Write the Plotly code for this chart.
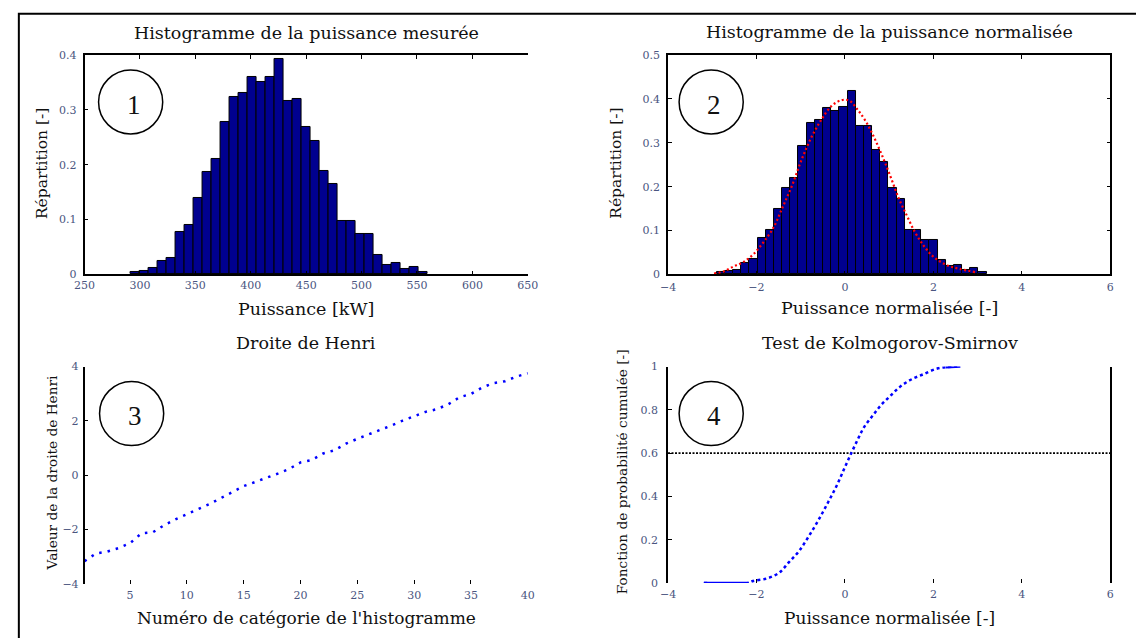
import plotly.graph_objects as go

W, H = 1136, 638

# ---- 1: histogram of the measured power -------------------------------
p_bin_start = 291.3      # kW, left edge of the first class
p_bin_width = 8.13       # kW
p_freq = [0.005, 0.006, 0.011, 0.024, 0.030, 0.077, 0.091, 0.139, 0.186, 0.210,
          0.277, 0.324, 0.330, 0.359, 0.350, 0.359, 0.392, 0.316, 0.320, 0.268,
          0.243, 0.188, 0.164, 0.097, 0.097, 0.073, 0.073, 0.035, 0.017, 0.021,
          0.010, 0.014, 0.005]
p_ticks = [250, 300, 350, 400, 450, 500, 550, 600, 650]
f1_ticks = [0, 0.1, 0.2, 0.3, 0.4]

# ---- 2: histogram of the normalised power + normal density -----------
n_bin_start = -2.90
n_bin_width = 0.185
n_freq = [0.005, 0.007, 0.010, 0.025, 0.036, 0.084, 0.101, 0.149, 0.197, 0.219,
          0.292, 0.344, 0.351, 0.379, 0.373, 0.381, 0.417, 0.339, 0.339, 0.284,
          0.256, 0.197, 0.171, 0.102, 0.102, 0.079, 0.079, 0.034, 0.019, 0.021,
          0.011, 0.015, 0.005]
gauss_x = [-2.96, -2.74, -2.52, -2.30, -2.08, -1.86, -1.63, -1.41, -1.19, -0.97,
           -0.75, -0.53, -0.30, -0.08, 0.10, 0.29, 0.47, 0.66, 0.84, 1.03,
           1.21, 1.40, 1.58, 1.77, 1.95, 2.14, 2.36, 2.58, 2.95]
gauss_y = [0.002, 0.007, 0.018, 0.028, 0.045, 0.071, 0.104, 0.153, 0.204, 0.264,
           0.314, 0.353, 0.384, 0.397, 0.396, 0.375, 0.349, 0.312, 0.271, 0.223,
           0.175, 0.134, 0.097, 0.067, 0.045, 0.030, 0.019, 0.013, 0.005]
norm_ticks = [-4, -2, 0, 2, 4, 6]
f2_ticks = [0, 0.1, 0.2, 0.3, 0.4, 0.5]

# ---- 3: Henri line -----------------------------------------------------
categories = list(range(1, 41))
henri = [-3.16, -2.88, -2.81, -2.68, -2.50, -2.14, -2.10, -1.84, -1.62, -1.44,
         -1.24, -1.06, -0.84, -0.61, -0.40, -0.25, -0.10, 0.06, 0.23, 0.47,
         0.56, 0.80, 0.92, 1.16, 1.34, 1.50, 1.65, 1.83, 2.01, 2.16,
         2.33, 2.43, 2.61, 2.87, 2.99, 3.23, 3.39, 3.46, 3.63, 3.75]
cat_ticks = [5, 10, 15, 20, 25, 30, 35, 40]
henri_ticks = [-4, -2, 0, 2, 4]

# ---- 4: Kolmogorov-Smirnov test ---------------------------------------
ks_x = [-3.19, -2.19, -2.08, -1.78, -1.49, -1.27, -1.04, -0.82, -0.60, -0.38,
        -0.19, -0.01, 0.14, 0.29, 0.43, 0.62, 0.81, 1.03, 1.25, 1.50,
        1.77, 2.06, 2.28, 2.61]
ks_y = [0.0, 0.0, 0.009, 0.020, 0.047, 0.095, 0.147, 0.215, 0.290, 0.373,
        0.448, 0.531, 0.598, 0.663, 0.719, 0.771, 0.820, 0.865, 0.907, 0.940,
        0.964, 0.989, 0.997, 1.0]
ks_level = 0.6
cdf_ticks = [0, 0.2, 0.4, 0.6, 0.8, 1]

NAVY = "#00008f"
TXT = "#111111"
TICK_FONT = dict(family="DejaVu Serif", size=11, color="#4a5580")
LBL = "DejaVu Serif"


def px(x):
    return x / W


def py(y):
    return 1 - y / H


fig = go.Figure()

# panel 1 bars
fig.add_trace(go.Bar(
    x=[p_bin_start + (i + 0.5) * p_bin_width for i in range(len(p_freq))],
    y=p_freq, width=p_bin_width,
    marker=dict(color=NAVY, line=dict(color="black", width=1)),
    xaxis="x", yaxis="y", showlegend=False))

# panel 2 bars + density
fig.add_trace(go.Bar(
    x=[n_bin_start + (i + 0.5) * n_bin_width for i in range(len(n_freq))],
    y=n_freq, width=n_bin_width,
    marker=dict(color=NAVY, line=dict(color="black", width=1)),
    xaxis="x2", yaxis="y2", showlegend=False))
fig.add_trace(go.Scatter(
    x=gauss_x, y=gauss_y, mode="lines",
    line=dict(color="red", width=2.2, dash="2px,2.5px", shape="spline"),
    xaxis="x2", yaxis="y2", showlegend=False))

# panel 3 Henri line
fig.add_trace(go.Scatter(
    x=categories, y=henri, mode="lines", line=dict(color="blue", width=2.5, dash="2.5px,6px"),
    xaxis="x3", yaxis="y3", showlegend=False))

# panel 4 cumulative curve + threshold
fig.add_trace(go.Scatter(
    x=[-4, 6], y=[ks_level, ks_level], mode="lines",
    line=dict(color="black", width=1.8, dash="2px,1.5px"),
    xaxis="x4", yaxis="y4", showlegend=False))
fig.add_trace(go.Scatter(
    x=ks_x, y=ks_y, mode="lines",
    line=dict(color="blue", width=2.5, dash="3px,3px", shape="spline"),
    xaxis="x4", yaxis="y4", showlegend=False))
fig.add_trace(go.Scatter(
    x=ks_x[:2], y=ks_y[:2], mode="lines", line=dict(color="blue", width=2.5),
    xaxis="x4", yaxis="y4", showlegend=False))
fig.add_trace(go.Scatter(
    x=ks_x[-2:], y=ks_y[-2:], mode="lines", line=dict(color="blue", width=2.5),
    xaxis="x4", yaxis="y4", showlegend=False))

# axes geometry (pixels)
L1, R1 = 75, 527
L2, R2 = 670, 1121
T1, B1 = 50, 274
T2, B2 = 368, 590

common = dict(ticks="inside", ticklen=4, tickcolor="black", tickfont=TICK_FONT,
              showgrid=False, zeroline=False, linecolor="black", linewidth=1.5)

fig.update_layout(
    width=W, height=H, margin=dict(l=0, r=0, t=0, b=0),
    paper_bgcolor="white", plot_bgcolor="white", bargap=0,
    xaxis=dict(domain=[px(L1), px(R1)], anchor="y", range=[250, 650], tickvals=p_ticks,
               showline=True, mirror="ticks", **common),
    yaxis=dict(domain=[py(B1), py(T1)], anchor="x", range=[0, 0.4], tickvals=f1_ticks,
               showline=True, mirror=False, ticklabelstandoff=4, **common),
    xaxis2=dict(domain=[px(L2), px(R2)], anchor="y2", range=[-4, 6], tickvals=norm_ticks,
                showline=True, mirror="ticks", ticklabelstandoff=2, **common),
    yaxis2=dict(domain=[py(B1), py(T1)], anchor="x2", range=[0, 0.5], tickvals=f2_ticks,
                showline=True, mirror="ticks", ticklabelstandoff=4, **common),
    xaxis3=dict(domain=[px(L1), px(R1)], anchor="y3", range=[1, 40], tickvals=cat_ticks,
                showline=False, ticklabelstandoff=3, **common),
    yaxis3=dict(domain=[py(B2), py(T2)], anchor="x3", range=[-4, 4], tickvals=henri_ticks,
                showline=True, mirror=False, ticklabelstandoff=2, **common),
    xaxis4=dict(domain=[px(L2), px(R2)], anchor="y4", range=[-4, 6], tickvals=norm_ticks,
                showline=False, ticklabelstandoff=3, **common),
    yaxis4=dict(domain=[py(B2 - 1), py(T2)], anchor="x4", range=[0, 1], tickvals=cdf_ticks,
                showline=True, mirror=True, ticklabelstandoff=6, **common),
)

ann = []


def text(x, y, s, size=17.5, angle=0, family=LBL):
    ann.append(dict(x=px(x), y=py(y), xref="paper", yref="paper", text=s, showarrow=False,
                    textangle=angle, xanchor="center", yanchor="middle",
                    font=dict(family=family, size=size, color=TXT)))


# titles
text(301, 28, "Histogramme de la puissance mesurée")
text(896, 27, "Histogramme de la puissance normalisée")
text(301, 344, "Droite de Henri")
text(896, 344, "Test de Kolmogorov-Smirnov")
# x labels
text(301, 309, "Puissance [kW]")
text(896, 308, "Puissance normalisée [-]")
text(301, 625, "Numéro de catégorie de l'histogramme", size=17)
text(896, 625, "Puissance normalisée [-]", size=17)
# y labels
text(31, 161, "Répartition [-]", size=15.5, angle=-90)
text(617, 161, "Répartition [-]", size=15.5, angle=-90)
text(42, 476, "Valeur de la droite de Henri", size=13.7, angle=-90)
text(623, 475, "Fonction de probabilité cumulée [-]", size=13.7, angle=-90)

# outer frame and circled panel numbers
shapes = [dict(type="rect", xref="paper", yref="paper", x0=px(8), y0=py(660), x1=px(1150), y1=py(8),
               line=dict(color="black", width=2), fillcolor="rgba(0,0,0,0)")]
for (cx, cy, lab) in [(122, 98, "1"), (714, 98, "2"), (123, 416, "3"), (714, 416, "4")]:
    r = 32.7
    shapes.append(dict(type="circle", xref="paper", yref="paper",
                       x0=px(cx - r), x1=px(cx + r), y0=py(cy + r), y1=py(cy - r),
                       line=dict(color="black", width=1.5), fillcolor="rgba(0,0,0,0)"))
    text(cx + 3, cy + 3, lab, size=27, family="Liberation Serif")

fig.update_layout(annotations=ann, shapes=shapes)
fig.write_html("out.html")
